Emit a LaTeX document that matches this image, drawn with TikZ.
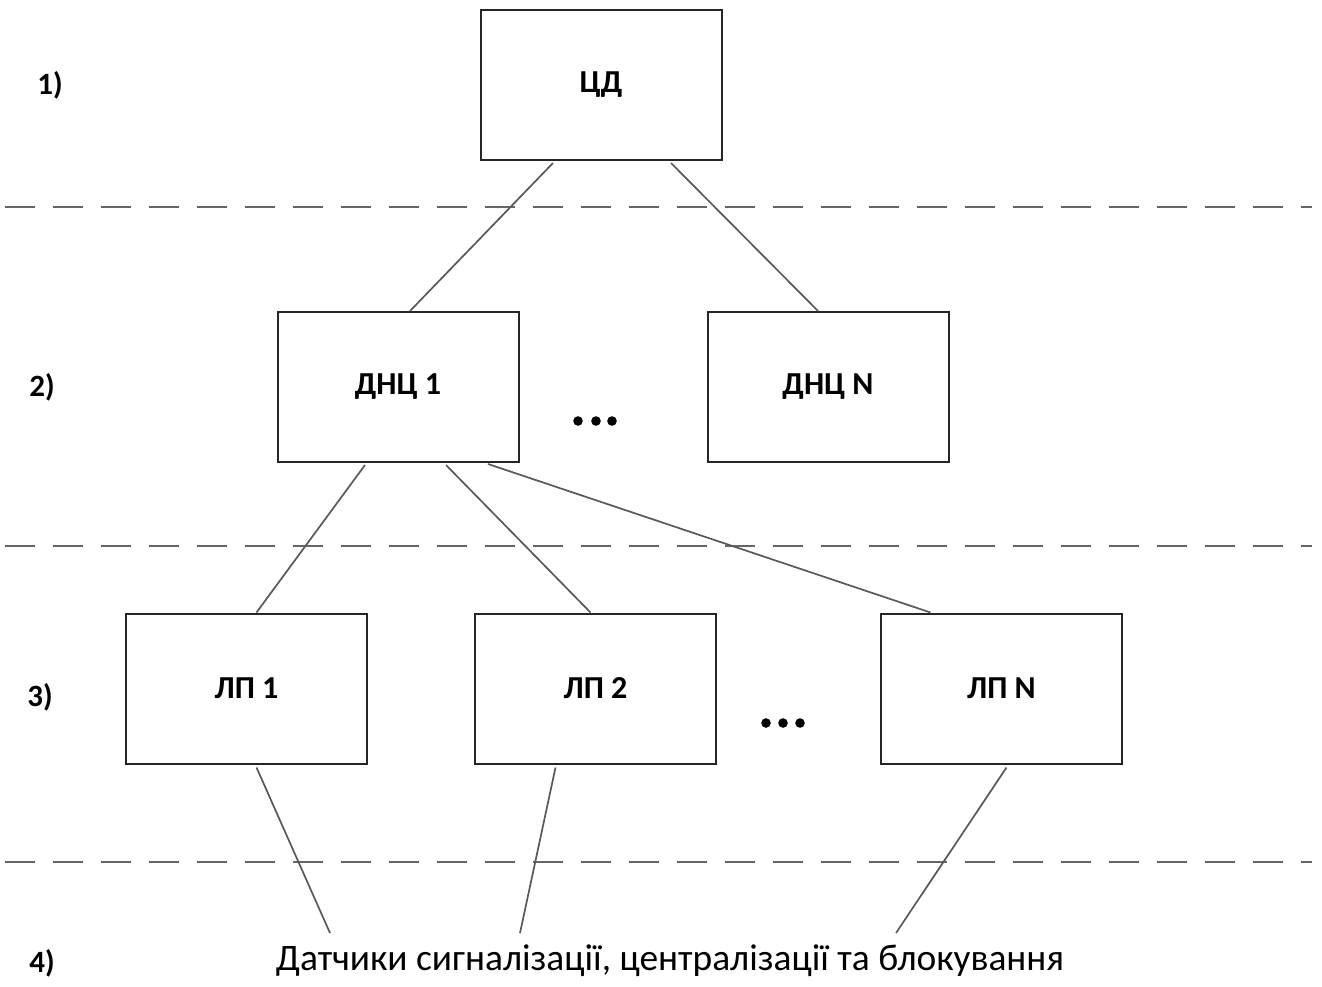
\documentclass[tikz,border=0pt]{standalone}
\usepackage{fontspec}
\setmainfont{Carlito}
\usetikzlibrary{calc}
\tikzset{
  blk/.style={draw=black!85, line width=2pt, fill=white, minimum width=241pt, minimum height=150pt, inner sep=0pt, font=\fontsize{32}{36}\selectfont\bfseries},
  lvl/.style={inner sep=0pt, font=\fontsize{31}{36}\selectfont\bfseries},
  conn/.style={draw=black!65, line width=1.7pt},
  sep/.style={draw=black!60, line width=2.6pt, dash pattern=on 30pt off 18pt},
  dotc/.style={fill=black, draw=none}
}
\begin{document}
\begin{tikzpicture}[x=1pt,y=-1pt]
\useasboundingbox (0,0) rectangle (1322,986);
\fill[white] (0,0) rectangle (1322,986);
% separators
\draw[sep] (5,207) -- (1312,207);
\draw[sep] (5,546) -- (1312,546);
\draw[sep] (5,862) -- (1312,862);
% level labels
\node[lvl] (l1) at (50,85) {1)};
\node[lvl] (l2) at (42,387) {2)};
\node[lvl] (l3) at (40,697) {3)};
\node[lvl] (l4) at (42,963) {4)};
% boxes
\node[blk] (cd) at (601,85) {ЦД};
\node[blk] (dnc1) at (398,387) {ДНЦ 1};
\node[blk] (dncN) at (828,387) {ДНЦ N};
\node[blk] (lp1) at (246.5,688.5) {ЛП 1};
\node[blk] (lp2) at (595.5,688.5) {ЛП 2};
\node[blk] (lpN) at (1001.5,688.5) {ЛП N};
% dots
\foreach \xx in {578,596,612}{\fill[dotc] (\xx,421) circle (4.8pt);}
\foreach \xx in {766,783,800}{\fill[dotc] (\xx,723) circle (4.8pt);}
% bottom text
\node[inner sep=0pt, font=\fontsize{37.4}{42}\selectfont] (sensors) at (670,961) {Датчики сигналізації, централізації та блокування};
\coordinate (s1) at (330,933);
\coordinate (s2) at (520,933);
\coordinate (s3) at (896,933);
% connectors
\draw[conn] ($(cd.south)+(-48,2)$) -- ($(dnc1.north)+(12,0)$);
\draw[conn] ($(cd.south)+(70,2)$) -- ($(dncN.north)+(-10,0)$);
\draw[conn] ($(dnc1.south)+(-33,2)$) -- ($(lp1.north)+(10,0)$);
\draw[conn] ($(dnc1.south)+(48,2)$) -- ($(lp2.north)+(-5,0)$);
\draw[conn] ($(dnc1.south)+(90,1)$) -- ($(lpN.north)+(-71,0)$);
\draw[conn] ($(lp1.south)+(10,3)$) -- (s1);
\draw[conn] ($(lp2.south)+(-40,3)$) -- (s2);
\draw[conn] ($(lpN.south)+(5,3)$) -- (s3);
\end{tikzpicture}
\end{document}
